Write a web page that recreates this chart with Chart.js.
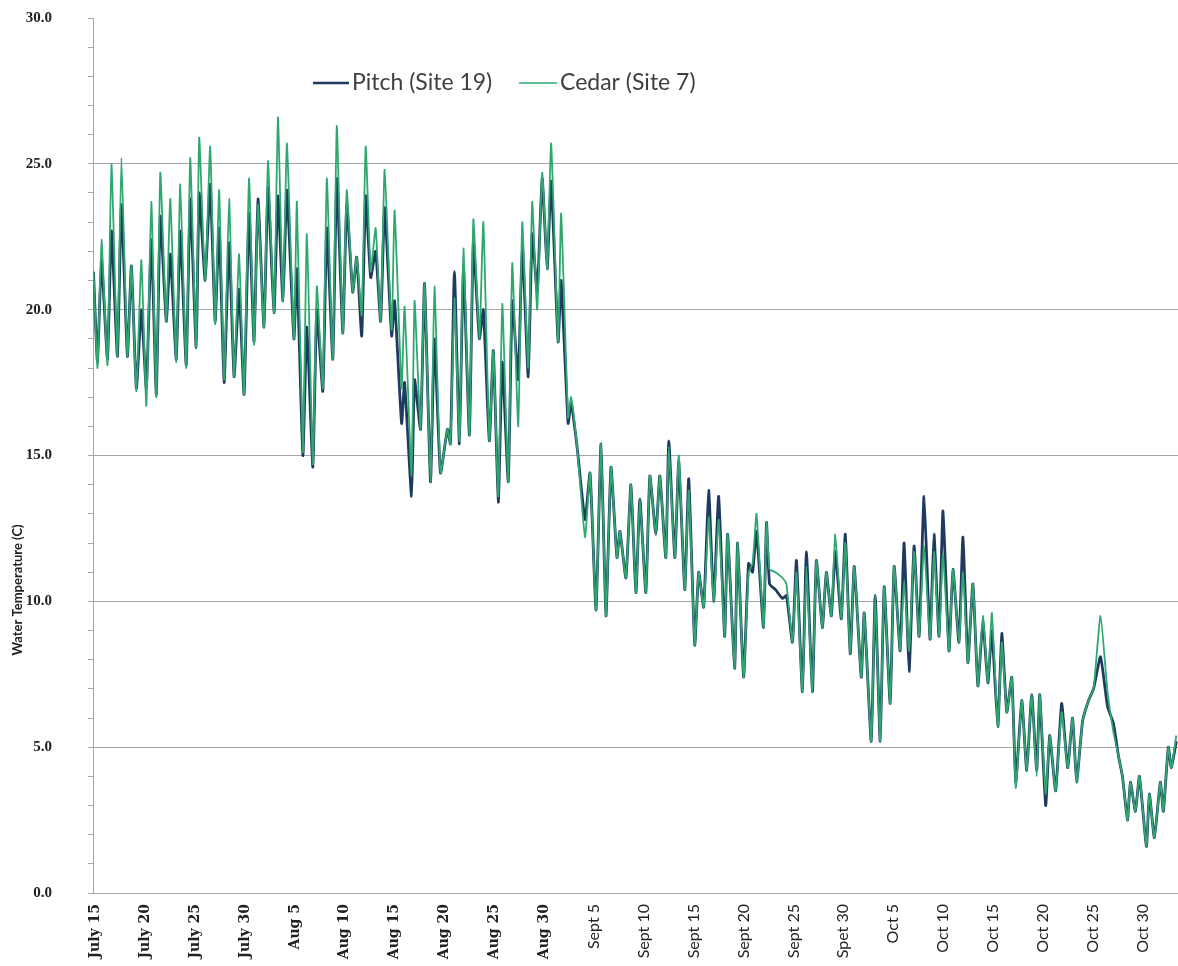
<!DOCTYPE html>
<html><head><meta charset="utf-8">
<script src="https://cdn.jsdelivr.net/npm/chart.js@4.4.1/dist/chart.umd.min.js"></script>
<style>html,body{margin:0;padding:0;background:#fff;}#wrap{width:1178px;height:966px;}</style>
</head><body><div id="wrap"><canvas id="c" width="1178" height="966"></canvas></div>
<script>
// x tick labels (as printed on the original chart) and their day offsets from July 15
const tickLabels = ['July 15','July 20','July 25','July 30','Aug 5','Aug 10','Aug 15','Aug 20','Aug 25','Aug 30',
  'Sept 5','Sept 10','Sept 15','Sept 20','Sept 25','Spet 30','Oct 5','Oct 10','Oct 15','Oct 20','Oct 25','Oct 30'];
const tickDays = [0,5,10,15,20,25,30,35,40,45,50,55,60,65,70,75,80,85,90,95,100,105];

// reading times (days after July 15) of the daily highs / lows
const days = [-0.2,0.2,0.6,1.2,1.6,2.2,2.6,3.2,3.6,4.1,4.6,5.1,5.6,6.1,6.5,7.1,7.5,8.1,8.5,9.1,
  9.5,10.1,10.4,11.0,11.5,12.0,12.4,12.9,13.4,13.9,14.4,14.9,15.4,15.9,16.3,16.9,17.3,17.9,18.3,18.8,
  19.2,19.9,20.2,20.8,21.2,21.8,22.2,22.8,23.2,23.8,24.2,24.8,25.2,25.8,26.2,26.7,27.1,27.6,28.1,28.6,
  29.0,29.7,30.0,30.7,31.0,31.7,32.0,32.6,33.0,33.6,34.0,34.6,35.3,35.6,36.0,36.5,36.9,37.5,37.9,38.5,
  38.9,39.5,39.9,40.4,40.8,41.4,41.8,42.4,42.8,43.4,43.8,44.3,44.8,45.3,45.7,46.4,46.7,47.4,47.7,48.3,
  49.1,49.6,50.2,50.7,51.2,51.7,52.3,52.6,53.2,53.7,54.2,54.6,55.2,55.6,56.2,56.6,57.2,57.5,58.1,58.5,
  59.1,59.5,60.1,60.5,61.0,61.5,62.0,62.5,63.1,63.4,64.1,64.4,65.0,65.5,65.9,66.3,67.0,67.3,67.6,68.2,
  68.9,69.3,69.9,70.3,70.9,71.3,71.9,72.3,72.9,73.3,73.8,74.2,74.8,75.2,75.7,76.1,76.8,77.1,77.8,78.2,
  78.7,79.1,79.7,80.1,80.7,81.1,81.6,82.1,82.6,83.1,83.7,84.1,84.6,85.0,85.6,86.0,86.6,87.0,87.5,88.0,
  88.5,89.0,89.5,89.9,90.5,90.9,91.4,91.9,92.3,92.9,93.4,93.9,94.4,94.7,95.3,95.7,96.3,96.9,97.5,98.0,
  98.4,99.0,99.6,100.1,100.8,101.5,102.1,102.6,103.0,103.5,103.8,104.3,104.7,105.4,105.7,106.2,106.8,107.1,107.6,107.9,
  108.4];

const pitch = [21.3,18.2,21.7,18.3,22.7,18.4,23.6,18.4,21.5,17.3,20.0,17.3,22.4,17.1,23.2,19.6,21.9,18.3,22.7,18.1,
  23.8,18.7,24.0,21.0,24.3,19.6,22.8,17.5,22.3,17.7,20.7,17.1,23.3,18.9,23.8,19.4,24.2,19.9,23.9,20.3,
  24.1,19.0,21.4,15.0,19.4,14.6,20.0,17.2,22.8,18.3,24.5,19.2,23.6,20.6,21.8,19.1,23.9,21.1,22.0,19.6,
  23.5,19.1,20.3,16.1,17.5,13.6,17.6,15.9,20.9,14.1,19.0,14.4,15.9,15.4,21.3,15.4,21.5,15.7,22.3,19.0,
  20.0,15.5,18.6,13.4,18.2,14.1,20.3,17.6,22.2,17.7,22.6,20.6,24.5,21.4,24.4,18.9,21.0,16.1,16.8,15.3,
  12.8,14.4,9.7,15.4,9.5,14.6,11.5,12.4,10.8,14.0,10.3,13.5,10.3,14.3,12.3,14.3,11.5,15.5,11.5,14.8,
  10.4,14.2,8.5,11.0,9.8,13.8,10.0,13.6,8.8,12.3,7.7,12.0,7.4,11.3,11.0,12.4,9.1,12.7,10.6,10.4,
  10.1,10.2,8.6,11.4,6.9,11.7,6.9,11.4,9.1,11.0,9.5,11.7,9.4,12.3,8.2,11.2,7.4,9.6,5.2,10.2,
  5.2,10.5,6.5,11.2,8.3,12.0,7.6,11.9,8.8,13.6,8.7,12.3,8.8,13.1,8.3,11.1,8.6,12.2,7.9,10.6,
  7.1,9.3,7.2,9.0,5.7,8.9,6.2,7.4,3.8,6.6,4.2,6.8,4.2,6.8,3.0,5.4,3.5,6.5,4.3,6.0,
  3.8,5.9,6.6,7.0,8.1,6.4,5.8,4.7,4.0,2.5,3.8,2.8,4.0,1.6,3.4,1.9,3.8,2.8,5.0,4.3,
  5.2];

const cedar = [21.3,18.0,22.4,18.1,25.0,18.4,25.2,18.4,21.5,17.2,21.7,16.7,23.7,17.0,24.7,19.6,23.8,18.2,24.3,18.0,
  25.2,18.7,25.9,21.0,25.6,19.5,24.1,17.6,23.8,17.7,21.9,17.1,24.5,18.8,23.6,19.4,25.1,19.9,26.6,20.3,
  25.7,19.0,23.7,15.1,22.6,14.7,20.8,17.3,24.5,18.3,26.3,19.2,24.1,20.6,21.8,19.8,25.6,21.3,22.8,19.6,
  24.8,19.3,23.4,17.3,20.1,14.3,20.3,15.9,20.9,14.1,20.8,14.4,15.9,15.4,20.4,15.5,22.1,15.7,23.1,19.0,
  23.0,15.5,18.6,13.6,20.2,14.1,21.6,16.0,23.0,18.0,23.7,20.0,24.7,21.4,25.7,18.9,23.3,16.3,17.0,15.3,
  12.2,14.4,9.7,15.4,9.5,14.6,11.5,12.4,10.8,14.0,10.3,13.5,10.3,14.3,12.3,14.3,11.5,15.3,11.5,15.0,
  10.4,13.8,8.5,11.0,9.8,12.9,10.0,12.8,8.8,12.3,7.7,12.0,7.4,11.0,11.3,13.0,9.1,12.7,11.1,11.0,
  10.8,10.6,8.6,11.0,6.9,11.2,6.9,11.4,9.1,11.0,9.5,12.3,9.4,12.0,8.2,11.2,7.4,9.6,5.2,10.2,
  5.2,10.5,6.5,11.2,8.3,10.7,8.3,11.7,8.8,11.9,8.7,11.7,8.8,11.6,8.3,11.1,8.6,11.0,7.9,10.6,
  7.1,9.5,7.2,9.6,5.7,8.6,6.2,7.4,3.6,6.6,4.2,6.8,4.0,6.8,3.4,5.4,3.5,6.2,4.3,6.0,
  3.8,5.9,6.6,7.0,9.5,6.9,5.5,4.7,4.0,2.5,3.8,2.8,4.0,1.6,3.4,1.9,3.8,2.8,5.0,4.3,
  5.4];

const seriesNames = ['Pitch (Site 19)', 'Cedar (Site 7)'];
const yTitle = 'Water Temperature (C)';
const PITCH_COLOR = '#1F3A60';
const CEDAR_COLOR = '#2FA870';
const GRID = '#A6A6A6';

const toPts = arr => arr.map((v, i) => ({ x: days[i], y: v }));

const decorPlugin = {
  id: 'decor',
  afterDraw(chart) {
    const c = chart.ctx;
    c.save();
    // legend inside the plot
    c.font = '23px Lato';
    c.textBaseline = 'middle';
    c.fillStyle = '#404040';
    const y = 83;
    c.lineCap = 'butt';
    c.strokeStyle = PITCH_COLOR; c.lineWidth = 2.6;
    c.beginPath(); c.moveTo(313, y); c.lineTo(349, y); c.stroke();
    c.fillText(seriesNames[0], 352, y);
    c.strokeStyle = CEDAR_COLOR; c.lineWidth = 1.4;
    c.beginPath(); c.moveTo(519, y); c.lineTo(557, y); c.stroke();
    c.fillText(seriesNames[1], 560, y);
    // y axis title
    c.translate(18, 590);
    c.rotate(-Math.PI / 2);
    c.font = 'bold 13px Lato';
    c.textAlign = 'center';
    c.fillStyle = '#222';
    c.fillText(yTitle, 0, 0);
    c.restore();
  }
};

new Chart(document.getElementById('c'), {
  type: 'line',
  data: {
    datasets: [
      { label: seriesNames[0], data: toPts(pitch), borderColor: PITCH_COLOR, borderWidth: 2.8,
        pointRadius: 0, tension: 0.15, order: 2 },
      { label: seriesNames[1], data: toPts(cedar), borderColor: CEDAR_COLOR, borderWidth: 1.8,
        pointRadius: 0, tension: 0.15, order: 1 }
    ]
  },
  options: {
    responsive: false,
    animation: false,
    devicePixelRatio: 1,
    layout: { padding: { top: 18, left: 0, right: 0, bottom: 0 } },
    plugins: { legend: { display: false }, tooltip: { enabled: false } },
    scales: {
      x: {
        type: 'linear', min: -0.25, max: 108.57,
        afterBuildTicks: s => { s.ticks = tickDays.map(v => ({ value: v })); },
        afterFit: s => { s.height = 73; },
        grid: { display: false, drawTicks: false },
        border: { display: true, color: GRID, width: 1 },
        ticks: {
          autoSkip: false, minRotation: 90, maxRotation: 90, padding: 11, color: '#222',
          callback: (v, i) => tickLabels[i],
          font: c => c.index < 10 ? { family: 'DejaVu Serif', size: 14, weight: 'bold' } : { family: 'Lato', size: 16 }
        }
      },
      y: {
        min: 0, max: 30,
        afterFit: s => { s.width = 93; s.paddingTop = 6; s.paddingBottom = 6; },
        border: { display: true, color: GRID, width: 1 },
        grid: {
          color: c => (c.tick.value % 5 === 0 && c.tick.value > 0 && c.tick.value < 30) ? GRID : 'rgba(0,0,0,0)',
          tickColor: GRID, tickLength: 5, drawTicks: true
        },
        ticks: {
          stepSize: 1, autoSkip: false, padding: 36, color: '#222',
          font: { family: 'Liberation Serif', size: 15, weight: 'bold' },
          callback: v => (v % 5 === 0 ? v.toFixed(1) : '')
        },
        title: { display: false }
      }
    }
  },
  plugins: [decorPlugin]
});
</script></body></html>
